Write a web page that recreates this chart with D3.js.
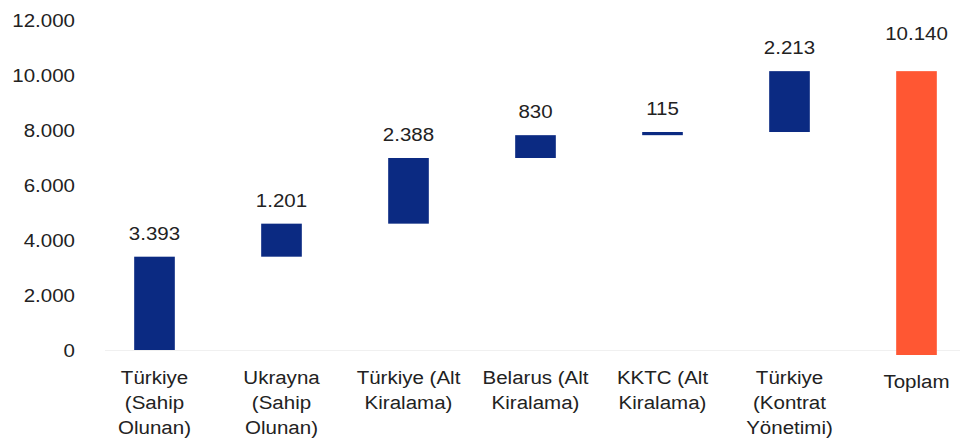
<!DOCTYPE html>
<html>
<head>
<meta charset="utf-8">
<script src="https://cdn.jsdelivr.net/npm/d3@7"></script>
<style>
  body { margin: 0; background: #fff; }
  svg { display: block; font-family: "Liberation Sans", Arial, sans-serif; }
</style>
</head>
<body>
<svg></svg>
<script>
// Veriler
var categories = [
  ["Türkiye", "(Sahip", "Olunan)"],
  ["Ukrayna", "(Sahip", "Olunan)"],
  ["Türkiye (Alt", "Kiralama)"],
  ["Belarus (Alt", "Kiralama)"],
  ["KKTC (Alt", "Kiralama)"],
  ["Türkiye", "(Kontrat", "Yönetimi)"],
  ["Toplam"]
];
var values = [3393, 1201, 2388, 830, 115, 2213];
var total = 10140;
var yTicks = [0, 2000, 4000, 6000, 8000, 10000, 12000];

var width = 967, height = 443;
var fontSize = 19, stretch = "scale(1.08,1)";
var svg = d3.select("svg").attr("width", width).attr("height", height);

// waterfall adimlari
var steps = [], run = 0;
values.forEach(function(v, i) {
  steps.push({ i: i, start: run, end: run + v, value: v, total: false });
  run += v;
});
steps.push({ i: values.length, start: 0, end: total, value: total, total: true });

var x = d3.scaleBand()
    .domain(d3.range(categories.length))
    .range([91, 980])
    .paddingInner(0.68)
    .paddingOuter(0.34);

var y = d3.scaleLinear().domain([0, 12000]).range([350, 20]);

var fmt = function(d) { return d3.format(",")(d).replace(/,/g, "."); };

// eksen
var axis = svg.append("g")
    .attr("transform", "translate(75,0)")
    .call(d3.axisLeft(y).tickValues(yTicks).tickFormat(fmt).tickSize(0).tickPadding(0));
axis.select(".domain").remove();
axis.selectAll("text")
    .attr("font-size", fontSize)
    .attr("font-family", "Liberation Sans, Arial, sans-serif")
    .attr("fill", "#222")
    .attr("transform", stretch);

// sifir cizgisi (soluk)
svg.append("line")
    .attr("x1", 105).attr("x2", 960)
    .attr("y1", y(0) + 0.5).attr("y2", y(0) + 0.5)
    .attr("stroke", "#f0f0f0");

// cubuklar
svg.selectAll("rect.bar")
    .data(steps)
  .enter().append("rect")
    .attr("class", "bar")
    .attr("x", function(d) { return x(d.i); })
    .attr("width", x.bandwidth())
    .attr("y", function(d) { return y(d.end); })
    .attr("height", function(d) { return Math.max(3, y(d.start) - y(d.end) + (d.total ? 5 : 0)); })
    .attr("fill", function(d) { return d.total ? "#ff5733" : "#0b2a82"; });

// deger etiketleri
svg.selectAll("text.val")
    .data(steps)
  .enter().append("text")
    .attr("class", "val")
    .attr("transform", function(d) {
      return "translate(" + (x(d.i) + x.bandwidth() / 2) + "," + (y(d.end) - (d.total ? 31 : 17)) + ") " + stretch;
    })
    .attr("text-anchor", "middle")
    .attr("font-size", fontSize)
    .attr("fill", "#222")
    .text(function(d) { return fmt(d.value); });

// kategori etiketleri
var cat = svg.selectAll("text.cat")
    .data(categories)
  .enter().append("text")
    .attr("class", "cat")
    .attr("text-anchor", "middle")
    .attr("font-size", fontSize)
    .attr("fill", "#222")
    .attr("transform", function(d, i) {
      return "translate(" + (x(i) + x.bandwidth() / 2) + "," + (i == categories.length - 1 ? 388 : 384) + ") " + stretch;
    });
cat.selectAll("tspan")
    .data(function(d) { return d; })
  .enter().append("tspan")
    .attr("x", 0)
    .attr("y", function(d, i) { return i * 25; })
    .text(function(d) { return d; });
</script>
</body>
</html>
